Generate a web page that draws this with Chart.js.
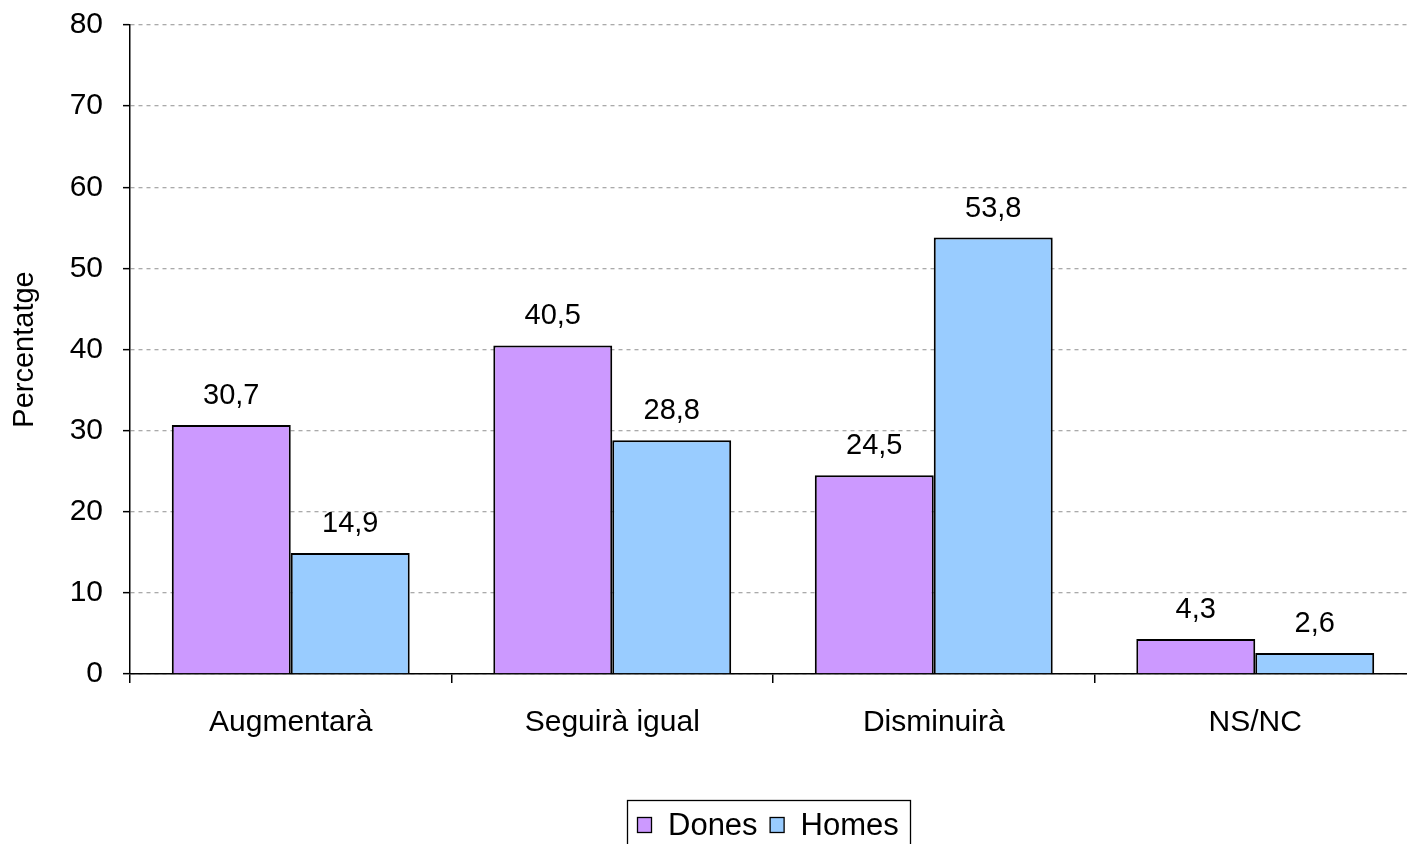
<!DOCTYPE html>
<html>
<head>
<meta charset="utf-8">
<script src="https://cdn.jsdelivr.net/npm/chart.js@4"></script>
<style>
html,body{margin:0;padding:0;background:#fff;overflow:hidden;}
#wrap{width:1418px;height:844px;}
</style>
</head>
<body>
<div id="wrap"><canvas id="chart"></canvas></div>
<script>
// chart data
const categories = ["Augmentarà", "Seguirà igual", "Disminuirà", "NS/NC"];
const dones = [30.7, 40.5, 24.5, 4.3];
const homes = [14.9, 28.8, 53.8, 2.6];
const yTicks = [0, 10, 20, 30, 40, 50, 60, 70, 80];

const FONT = "Arial, 'Liberation Sans', sans-serif";

// value labels above bars
const valueLabels = {
id:"valueLabels",
afterDatasetsDraw(chart){
const ctx = chart.ctx;
ctx.save();
ctx.font = "29px " + FONT;
ctx.fillStyle = "#000";
ctx.textAlign = "center";
ctx.textBaseline = "middle";
chart.data.datasets.forEach((ds,i)=>{
chart.getDatasetMeta(i).data.forEach((bar,j)=>{
ctx.fillText(ds.data[j].toFixed(1).replace(".", ","), bar.x, bar.y - 29);
});
});
ctx.restore();
}
};

// boxed legend at the bottom
const boxLegend = {
id:"boxLegend",
afterDraw(chart){
const ctx = chart.ctx;
ctx.save();
ctx.lineWidth = 1.3;
ctx.strokeStyle = "#000";
ctx.strokeRect(627.5, 800.5, 283, 60);
ctx.font = "31px " + FONT;
ctx.textBaseline = "middle";
let x = 637;
chart.data.datasets.forEach(ds=>{
ctx.fillStyle = ds.backgroundColor;
ctx.fillRect(x + 0.5, 817.5, 14, 15);
ctx.strokeRect(x + 0.5, 817.5, 14, 15);
ctx.fillStyle = "#000";
ctx.fillText(ds.label, x + 31, 826);
x += 31 + ctx.measureText(ds.label).width + 12;
});
ctx.restore();
}
};

new Chart(document.getElementById("chart"),{
type:"bar",
data:{
labels:categories,
datasets:[
{label:"Dones", data:dones, backgroundColor:"#CC99FF", borderColor:"#000", borderWidth:2},
{label:"Homes", data:homes, backgroundColor:"#99CCFF", borderColor:"#000", borderWidth:2}
]
},
options:{
responsive:true,
maintainAspectRatio:false,
animation:false,
layout:{padding:{top:25, right:2, bottom:0, left:0}},
datasets:{bar:{categoryPercentage:0.74, barPercentage:1}},
plugins:{
legend:{display:false},
tooltip:{enabled:false}
},
scales:{
x:{
offset:true,
grid:{display:true, drawOnChartArea:false, offset:true, color:"#000", tickLength:9, lineWidth:1.5},
border:{color:"#000", width:1.5},
ticks:{color:"#000", font:{size:30, family:FONT}, padding:22},
afterFit(s){ s.height = 170; s.paddingLeft = 0; s.paddingRight = 0; }
},
y:{
min:0, max:80,
afterBuildTicks(s){ s.ticks = yTicks.map(v=>({value:v})); },
grid:{color:"#aaaaaa", lineWidth:1.3, tickColor:"#000", tickLength:7, tickWidth:1.5, tickBorderDash:[]},
border:{color:"#000", width:1.5, dash:[4,4]},
ticks:{color:"#000", font:{size:30, family:FONT}, padding:20},
title:{display:true, text:"Percentatge", color:"#000", font:{size:29, family:FONT}, padding:{top:8}},
afterFit(s){ s.width = 130; s.paddingTop = 0; s.paddingBottom = 0; }
}
}
},
plugins:[valueLabels, boxLegend]
});
</script>
</body>
</html>
